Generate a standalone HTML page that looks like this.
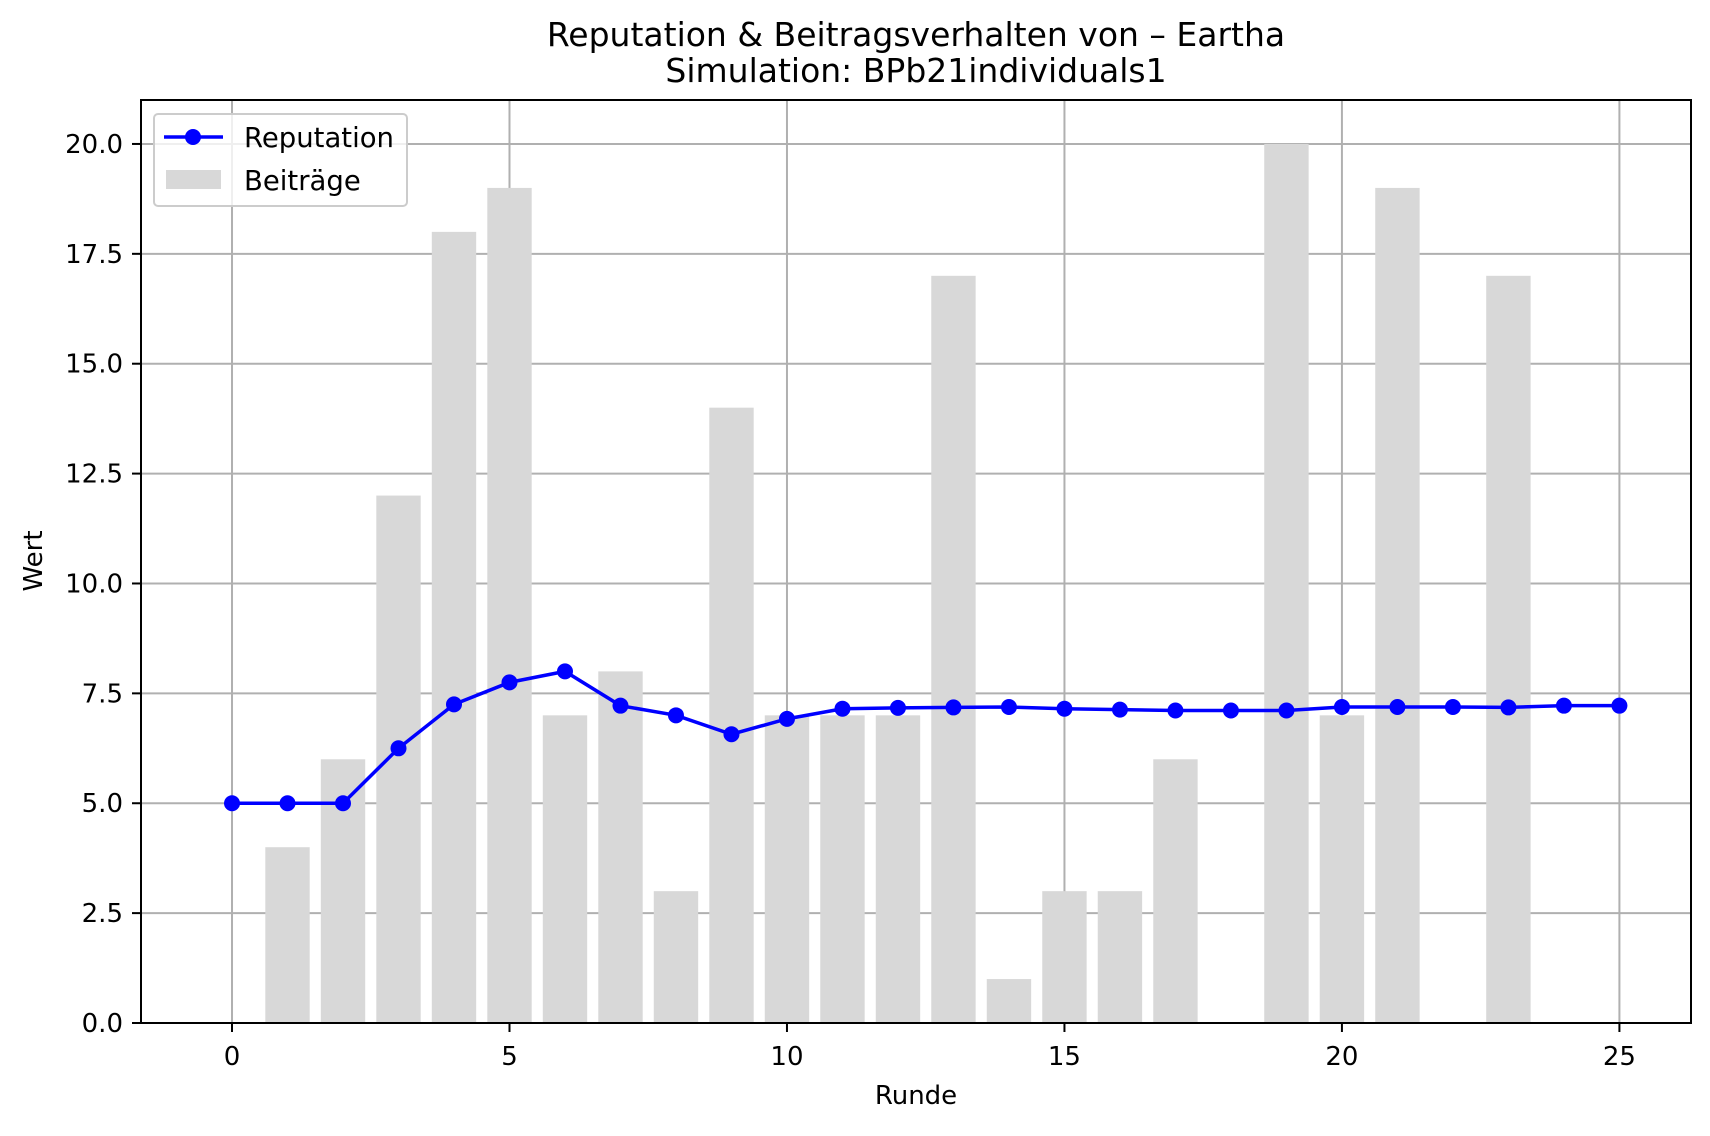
<!DOCTYPE html>
<html><head><meta charset="utf-8"><style>
body{margin:0;background:#fff}
svg text{font-family:"DejaVu Sans","Liberation Sans",sans-serif;fill:#000}
</style></head><body>
<svg id="chart" width="1710" height="1131" viewBox="0 0 1710 1131" xmlns="http://www.w3.org/2000/svg">
<rect width="1710" height="1131" fill="#fff"/>
<g id="grid"></g><g id="bars"></g><g id="line"></g><g id="ticks"></g>
<rect x="141" y="100" width="1550" height="923" fill="none" stroke="#000" stroke-width="2"/>
<text x="916" y="46" font-size="33" text-anchor="middle">Reputation &amp; Beitragsverhalten von – Eartha</text>
<text x="916" y="82" font-size="33" text-anchor="middle">Simulation: BPb21individuals1</text>
<text x="916" y="1104" font-size="26" text-anchor="middle">Runde</text>
<text transform="translate(42,561) rotate(-90)" font-size="26" text-anchor="middle">Wert</text>
<g>
<rect x="154" y="114" width="253" height="92" rx="4" fill="#fff" fill-opacity="0.8" stroke="#ccc" stroke-width="2"/>
<line x1="164" y1="137" x2="223" y2="137" stroke="#0000ff" stroke-width="3.5"/>
<circle cx="193" cy="137" r="8" fill="#0000ff"/>
<text x="244" y="147" font-size="27.5">Reputation</text>
<rect x="166" y="170" width="55" height="19" fill="#d8d8d8"/>
<text x="244" y="190" font-size="27.5">Beiträge</text>
</g>
</svg>
<script>
const rounds=[0,1,2,3,4,5,6,7,8,9,10,11,12,13,14,15,16,17,18,19,20,21,22,23,24,25];
const reputation=[5,5,5,6.25,7.25,7.75,8.0,7.22,7.0,6.57,6.92,7.15,7.17,7.18,7.19,7.15,7.13,7.11,7.11,7.11,7.19,7.19,7.19,7.18,7.22,7.22];
const beitraege=[0,4,6,12,18,19,7,8,3,14,7,7,7,17,1,3,3,6,0,20,7,19,0,17,0,0];
const xTicks=[0,5,10,15,20,25];
const yTicks=[0,2.5,5,7.5,10,12.5,15,17.5,20];
const NS='http://www.w3.org/2000/svg';
const L=141,R=1691,T=100,B=1023,xmin=-1.64,xmax=26.29,ymin=0,ymax=21;
const X=v=>L+(v-xmin)/(xmax-xmin)*(R-L);
const Y=v=>B-(v-ymin)/(ymax-ymin)*(B-T);
function mk(tag,attrs,parent){const e=document.createElementNS(NS,tag);for(const k in attrs)e.setAttribute(k,attrs[k]);document.getElementById(parent).appendChild(e);return e;}
xTicks.forEach(t=>{
 const g=mk('line',{x1:X(t),x2:X(t),y1:T,y2:B,stroke:'#b0b0b0','stroke-width':2},'grid');
 
 
 const tk=mk('line',{x1:X(t),x2:X(t),y1:B,y2:B+9,stroke:'#000','stroke-width':2},'ticks');
 
 
 const tx=mk('text',{x:X(t),y:B+42,'font-size':26,'text-anchor':'middle'},'ticks');
 tx.textContent=t;
 
 
});
yTicks.forEach(t=>{
 const g=mk('line',{x1:L,x2:R,y1:Y(t),y2:Y(t),stroke:'#b0b0b0','stroke-width':2},'grid');
 
 
 const tk=mk('line',{x1:L-9,x2:L,y1:Y(t),y2:Y(t),stroke:'#000','stroke-width':2},'ticks');
 
 
 const tx=mk('text',{x:L-18,y:Y(t)+9,'font-size':26,'text-anchor':'end'},'ticks');
 tx.textContent=t.toFixed(1);
 
 
});
rounds.forEach((r,i)=>{
 const w=X(0.4)-X(-0.4);
 const b=mk('rect',{x:X(r-0.4),y:Y(beitraege[i]),width:w,height:Y(0)-Y(beitraege[i]),fill:'#d8d8d8'},'bars');
 
 
});
const pl=mk('polyline',{points:rounds.map((r,i)=>X(r)+','+Y(reputation[i])).join(' '),fill:'none',stroke:'#0000ff','stroke-width':3.5},'line');


rounds.forEach((r,i)=>{
 const c=mk('circle',{cx:X(r),cy:Y(reputation[i]),r:8,fill:'#0000ff'},'line');
 
 
});
</script>
</body></html>
